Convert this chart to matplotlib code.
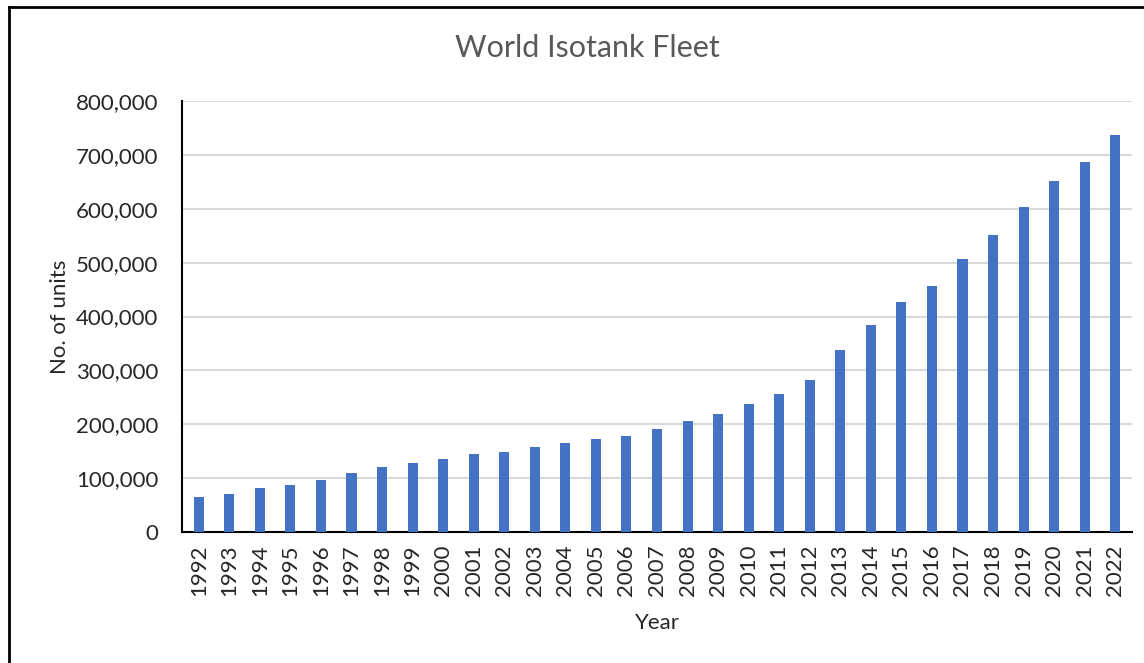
import matplotlib
matplotlib.use("Agg")
import matplotlib.pyplot as plt
from matplotlib.lines import Line2D
from matplotlib.ticker import FuncFormatter, MultipleLocator

years = [str(y) for y in range(1992, 2023)]
units = [65000, 71000, 81000, 87000, 96000, 109000, 120000, 129000, 135000,
         144000, 149000, 158000, 165000, 172000, 178000, 191000, 206000,
         219000, 237000, 257000, 283000, 338000, 384000, 426000, 456000,
         506000, 552000, 603000, 651000, 686000, 736000]

plt.rcParams['font.family'] = ['Lato', 'DejaVu Sans']

W, H = 1144, 663
fig = plt.figure(figsize=(W / 100, H / 100), dpi=100)
ax = fig.add_axes([182 / W, 1 - 532 / H, (1132 - 182) / W, (532 - 101) / H])

x = range(len(years))
ax.bar(x, units, width=0.33, color='#4472C4', zorder=3)

ax.set_xlim(-0.55, len(years) - 0.5 + 0.05)
ax.set_ylim(0, 800000)
ax.yaxis.set_major_locator(MultipleLocator(100000))
ax.yaxis.set_major_formatter(FuncFormatter(lambda v, p: f"{int(v):,}"))
ax.set_xticks(list(x))
ax.set_xticklabels(years, rotation=90)

ax.grid(axis='y', color='#d9d9d9', linewidth=1.5, zorder=0)
for s in ['top', 'right']:
    ax.spines[s].set_visible(False)
ax.spines['left'].set_linewidth(1.5)
ax.spines['bottom'].set_linewidth(1.5)
ax.tick_params(axis='both', length=0, labelsize=16, colors='#262626')
ax.tick_params(axis='y', pad=17)
ax.tick_params(axis='x', pad=9)

ax.set_xlabel('Year', fontsize=16, color='#262626', labelpad=12)
ax.set_ylabel('No. of units', fontsize=16, color='#262626', labelpad=4)
fig.text(587 / W, 1 - 48 / H, 'World Isotank Fleet', ha='center', va='center',
         fontsize=22, color='#595959')

# outer frame (left and top edges)
fig.add_artist(Line2D([9 / W, 9 / W], [0, 1 - 7 / H], transform=fig.transFigure,
                      color='black', linewidth=2))
fig.add_artist(Line2D([9 / W, 1], [1 - 7 / H, 1 - 7 / H], transform=fig.transFigure,
                      color='black', linewidth=2))

fig.savefig('out.png', dpi=100)
